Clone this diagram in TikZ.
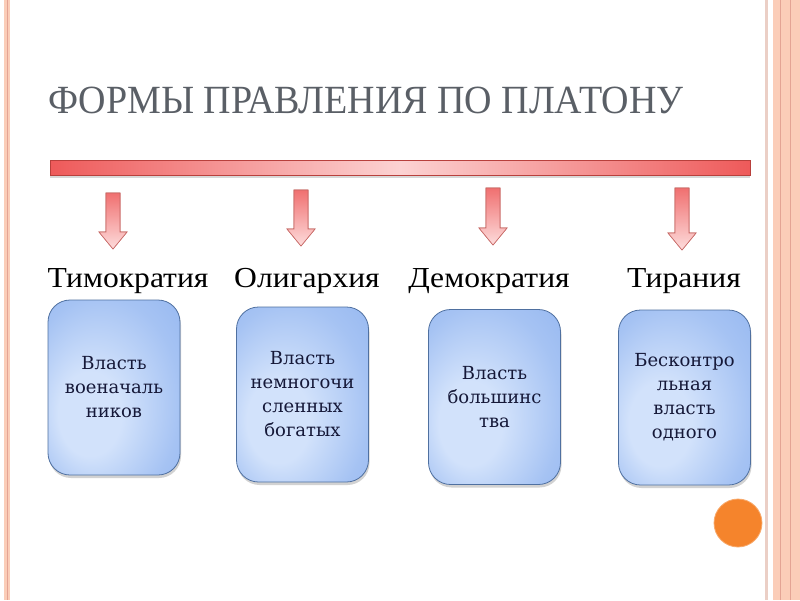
\documentclass[tikz,border=0pt]{standalone}
\usepackage{fontspec}
\setmainfont{Liberation Serif}
\newfontfamily\boxfont{DejaVu Serif}
\usetikzlibrary{shadows}
\definecolor{titlegray}{HTML}{5A5F66}
\definecolor{barred}{HTML}{EE5A5A}
\definecolor{barpink}{HTML}{FCD2D2}
\definecolor{bardark}{HTML}{B8403C}
\definecolor{arrtop}{HTML}{F07070}
\definecolor{arrbot}{HTML}{FDDCDC}
\definecolor{boxlight}{HTML}{D2E2FB}
\definecolor{boxdark}{HTML}{88AEEE}
\definecolor{boxline}{HTML}{4F70A0}
\definecolor{boxtext}{HTML}{151838}
\definecolor{dotorange}{HTML}{F5842C}
\definecolor{bordsalmon}{HTML}{FBCDB8}
\definecolor{bordline}{HTML}{E4A494}
\definecolor{bordthin}{HTML}{EBCFC6}
\pgfdeclareradialshading{boxglow}{\pgfpoint{-12bp}{-10bp}}{%
  color(0bp)=(boxlight); color(12bp)=(boxlight); color(30bp)=(boxdark!60!boxlight); color(50bp)=(boxdark)}
\tikzset{
  barbox/.style={rectangle, draw=bardark, line width=0.8pt, left color=barred, right color=barred, middle color=barpink, minimum width=700pt, minimum height=15pt, inner sep=0pt, drop shadow={shadow xshift=0pt, shadow yshift=-2pt, opacity=0.3}},
  downarrow/.style={draw=bardark!80, line width=0.6pt, top color=arrtop, bottom color=arrbot},
  formlabel/.style={anchor=base, inner sep=0pt, font=\fontsize{29}{33}\selectfont, xscale=1.09},
  formbox/.style={rectangle, rounded corners=22pt, draw=boxline, line width=0.8pt, shading=boxglow, minimum width=132pt, minimum height=175pt, align=center, text=boxtext, font=\boxfont\fontsize{18}{24}\selectfont, drop shadow={shadow xshift=1pt, shadow yshift=-3pt, opacity=0.35}},
}
\newcommand{\downarr}[3]{%
  \shade[downarrow] (#1-7,#2) -- (#1+7,#2) -- (#1+7,#3-17) -- (#1+14,#3-17) -- (#1,#3) -- (#1-14,#3-17) -- (#1-7,#3-17) -- cycle;
  \draw[downarrow, fill=none] (#1-7,#2) -- (#1+7,#2) -- (#1+7,#3-17) -- (#1+14,#3-17) -- (#1,#3) -- (#1-14,#3-17) -- (#1-7,#3-17) -- cycle;}
\begin{document}
\begin{tikzpicture}[x=1pt,y=-1pt]
\useasboundingbox (0,0) rectangle (800,600);
\fill[white] (0,0) rectangle (800,600);
% borders
\fill[bordsalmon] (4,0) rectangle (10,600);
\draw[bordline, line width=0.6pt] (7,0) -- (7,600);
\fill[bordthin] (765,0) rectangle (768,600);
\fill[bordsalmon] (773,0) rectangle (800,600);
\draw[bordline, line width=0.8pt] (780,0) -- (780,600);
\draw[bordline, line width=0.6pt] (790,0) -- (790,600);
% title
\node[anchor=base west, inner sep=0pt, text=titlegray, font=\fontsize{40}{44}\selectfont, xscale=0.95] (title) at (48,113) {ФОРМЫ ПРАВЛЕНИЯ ПО ПЛАТОНУ};
% bar
\node[barbox] (bar) at (400,168) {};
% arrows
\downarr{113}{193}{249}
\downarr{301}{190}{246}
\downarr{493}{188}{245}
\downarr{682}{188}{250}
% labels
\node[formlabel] (l1) at (128,287) {Тимократия};
\node[formlabel] (l2) at (307,287) {Олигархия};
\node[formlabel] (l3) at (489,287) {Демократия};
\node[formlabel] (l4) at (684,287) {Тирания};
% boxes
\node[formbox] (b1) at (114,387.5) {Власть\\военачаль\\ников};
\node[formbox] (b2) at (302.5,394.5) {Власть\\немногочи\\сленных\\богатых};
\node[formbox] (b3) at (494.5,397) {Власть\\большинс\\тва};
\node[formbox] (b4) at (684.5,397.5) {Бесконтро\\льная\\власть\\одного};
% dot
\node[circle, fill=dotorange, draw=dotorange!70!white, line width=0.8pt, minimum size=48pt, inner sep=0pt] (dot) at (738,523) {};
\end{tikzpicture}
\end{document}
